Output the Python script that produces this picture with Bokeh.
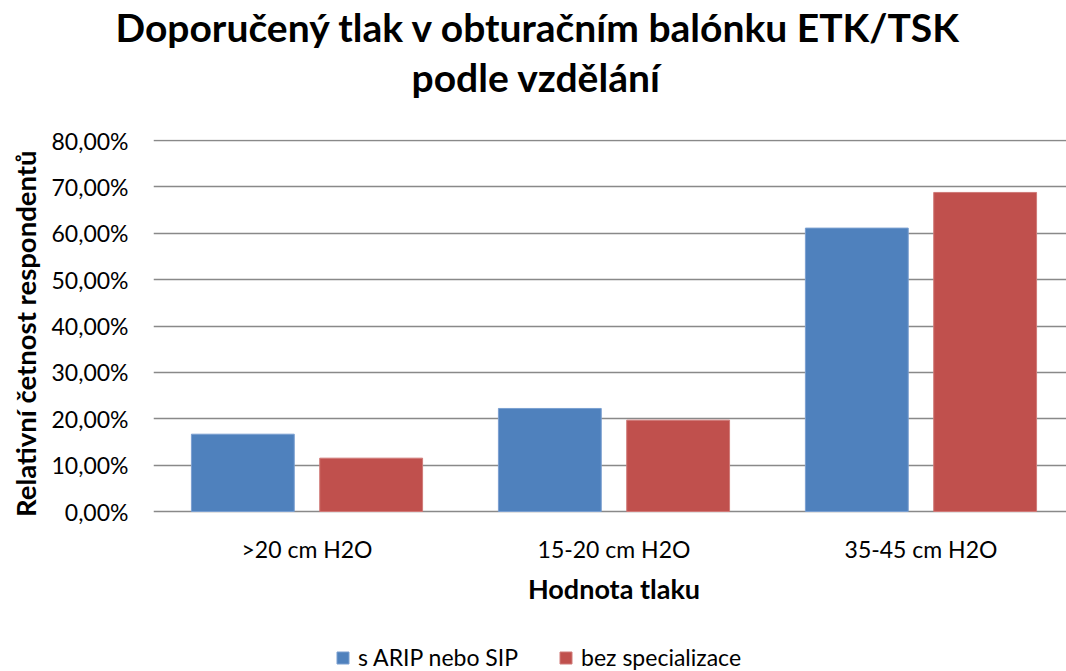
from bokeh.plotting import figure
from bokeh.models import (ColumnDataSource, Range1d, FixedTicker, Legend, LegendItem, Title)
from bokeh.core.properties import value
from bokeh.embed import file_html
from bokeh.resources import INLINE

categories = [">20 cm H2O", "15-20 cm H2O", "35-45 cm H2O"]
series_names = ["s ARIP nebo SIP", "bez specializace"]
arip = [0.1667, 0.2222, 0.6111]
bez = [0.1150, 0.1970, 0.6880]
y_ticks = [0.0, 0.1, 0.2, 0.3, 0.4, 0.5, 0.6, 0.7, 0.8]
y_tick_labels = ["0,00%", "10,00%", "20,00%", "30,00%", "40,00%", "50,00%", "60,00%", "70,00%", "80,00%"]
title_lines = ["Doporučený tlak v obturačním balónku ETK/TSK", "podle vzdělání"]
y_title = "Relativní četnost respondentů"
x_title = "Hodnota tlaku"

BLUE = "#4F81BD"
RED = "#C0504D"
GRID = "#898989"
FONT = "Lato"

# layout geometry (pixels)
W, H = 1066, 671
LEFT, TOP = 153, 139
PX_PER_UNIT = 371 / 0.8          # 0% -> 80% spans 371 px
FRAME_H = H - TOP
Y_END = 0.8 + 1 / PX_PER_UNIT
Y_START = Y_END - FRAME_H / PX_PER_UNIT

def px(d):
    """pixel distance below the zero line, as data units"""
    return -d / PX_PER_UNIT

x_centers = [i + 0.5 for i in range(len(categories))]
src = ColumnDataSource(dict(
    xb=[c - 0.209 for c in x_centers],
    xr=[c + 0.209 for c in x_centers],
    arip=arip, bez=bez,
))

p = figure(width=W, height=H, output_backend="svg", toolbar_location=None,
           x_range=Range1d(0, 2.974), y_range=Range1d(Y_START, Y_END),
           min_border_left=LEFT, min_border_right=0, min_border_top=TOP, min_border_bottom=0,
           background_fill_color="white", border_fill_color="white")
p.outline_line_color = None

r1 = p.vbar(x="xb", top="arip", bottom=0, width=0.335, source=src,
            fill_color=BLUE, line_color="#7A9FD0", line_width=1)
r2 = p.vbar(x="xr", top="bez", bottom=0, width=0.335, source=src,
            fill_color=RED, line_color="#D07A78", line_width=1)

p.xgrid.grid_line_color = None
p.ygrid.grid_line_color = GRID
p.ygrid.grid_line_width = 1.5
p.ygrid.ticker = FixedTicker(ticks=y_ticks)

yax = p.yaxis[0]
yax.ticker = FixedTicker(ticks=y_ticks)
yax.major_label_overrides = {tk: lb for tk, lb in zip(y_ticks, y_tick_labels)}
yax.axis_line_color = None
yax.major_tick_line_color = None
yax.minor_tick_line_color = None
yax.major_tick_out = 0
yax.major_label_standoff = 25
yax.major_label_text_font = FONT
yax.major_label_text_font_size = "23px"
yax.major_label_text_color = "#000000"

p.xaxis.visible = False

# category labels and x title, under the zero line
p.text(x=x_centers, y=[px(37)] * len(x_centers), text=categories,
       text_align="center", text_baseline="middle",
       text_font=value(FONT), text_font_size="23px", text_color="#000000")
p.text(x=[sum(x_centers) / len(x_centers)], y=[px(77)], text=[x_title],
       text_align="center", text_baseline="middle",
       text_font=value(FONT), text_font_style="bold", text_font_size="27px",
       text_color="#000000")

# y title in the left panel
p.add_layout(Title(text=y_title, align="right", offset=11, standoff=12,
                   vertical_align="middle",
                   text_font=FONT, text_font_style="bold", text_font_size="27.5px",
                   text_color="#000000"), "left")

# chart title: the line nearest the frame is added first
p.add_layout(Title(text=title_lines[1], align="left", offset=258, standoff=80,
                   text_font=FONT, text_font_style="bold", text_font_size="39px",
                   text_color="#000000"), "above")
p.add_layout(Title(text=title_lines[0], align="left", offset=-38, standoff=-76,
                   text_font=FONT, text_font_style="bold", text_font_size="39px",
                   text_color="#000000"), "above")

legend = Legend(items=[LegendItem(label=series_names[0], renderers=[r1]),
                       LegendItem(label=series_names[1], renderers=[r2])],
                location=(182, 0), orientation="horizontal",
                glyph_width=15, glyph_height=15, label_standoff=8, spacing=40,
                padding=0, margin=0, border_line_color=None, background_fill_alpha=0,
                label_text_font=FONT, label_text_font_size="23px", label_text_color="#000000")
p.add_layout(legend, "center")

open("out.html", "w").write(file_html(p, INLINE))
